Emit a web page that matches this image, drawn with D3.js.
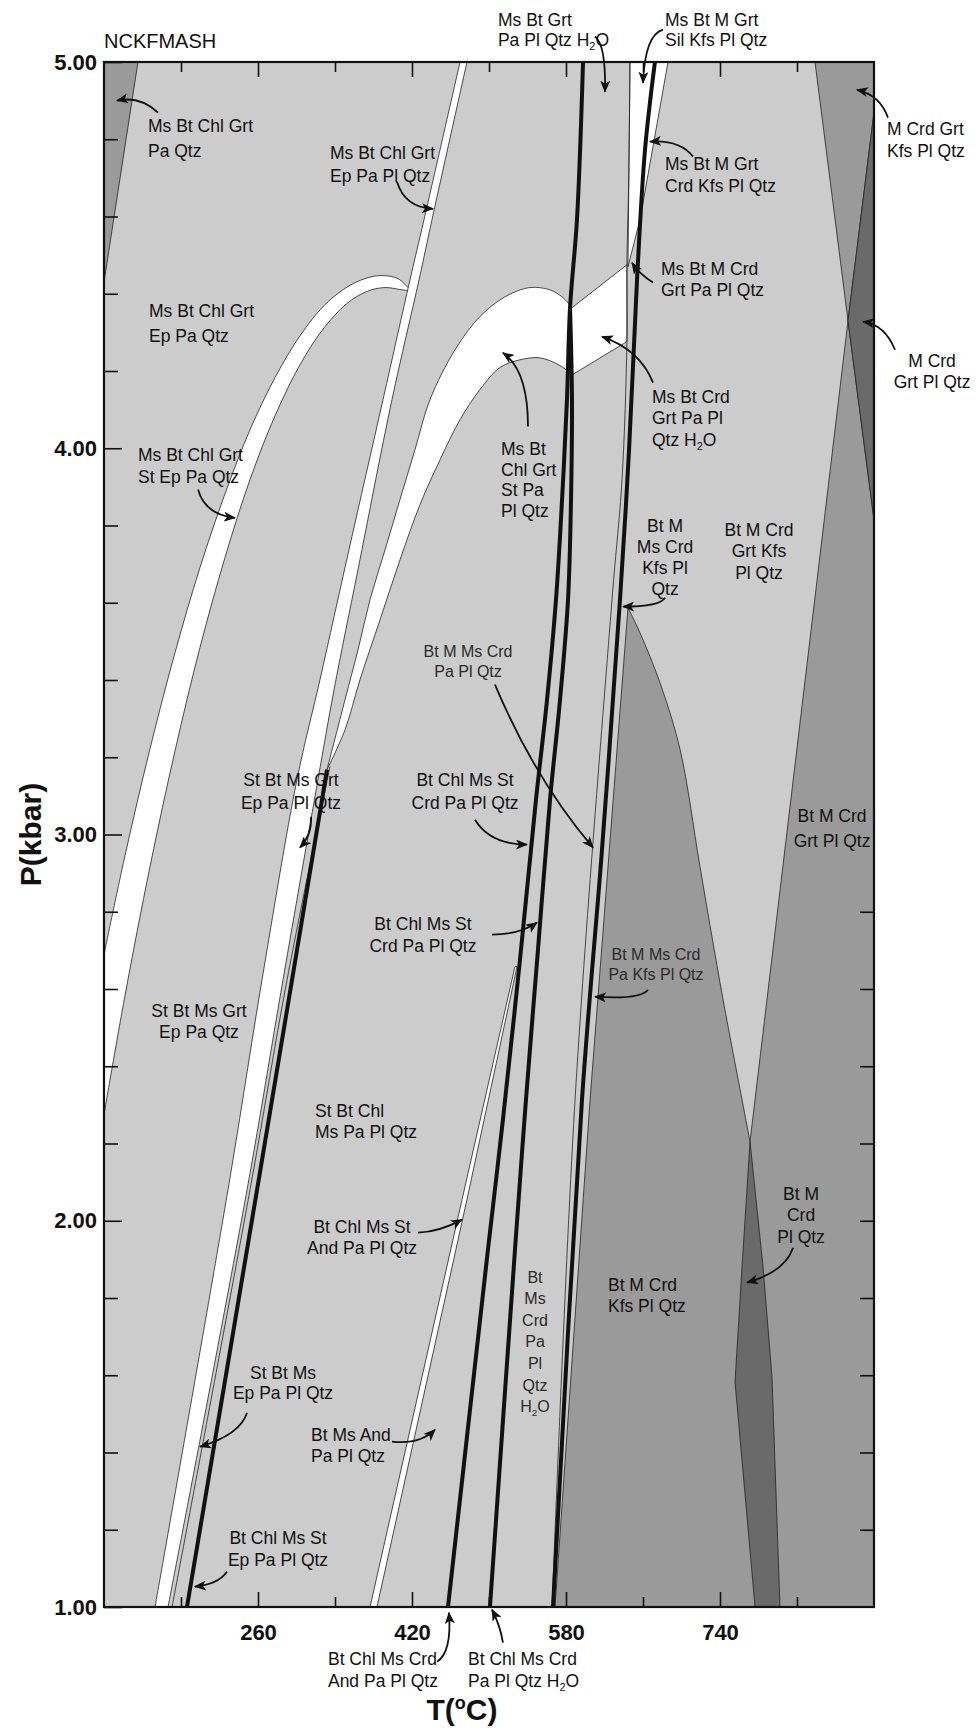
<!DOCTYPE html>
<html>
<head>
<meta charset="utf-8">
<script src="https://d3js.org/d3.v7.min.js"></script>
<style>
  body { margin: 0; background: #fff; }
  text { font-family: "Liberation Sans", Arial, Helvetica, sans-serif; }
</style>
</head>
<body>
<div id="chart-area"></div>
<script>
// NCKFMASH pseudosection, T (°C) vs P (kbar)

// ---- axis ticks ----
const tempMajor = [260, 420, 580, 740];
const tempMinor = [180, 340, 500, 660, 820];
const presMajor = [1, 2, 3, 4, 5];
const presMinor = [1.2, 1.4, 1.6, 1.8, 2.2, 2.4, 2.6, 2.8, 3.2, 3.4, 3.6, 3.8, 4.2, 4.4, 4.6, 4.8];
const presRight = [1.2, 1.4, 1.6, 1.8, 2.0, 2.2, 2.4, 2.6, 2.8];

// ---- field boundaries, [T, P] ----
const leftWedge = [[100, 5], [135.3, 5], [100, 4.43]];
const crdGrtKfs = [[838.7, 5], [900, 5], [900, 4.87], [873, 4.33]];
const crdGrtPl = [[900, 4.87], [873, 4.33], [900, 3.815]];
const kfsPeakCurve = [[644.4, 3.587], [656.9, 3.522], [677.6, 3.393], [698.5, 3.22], [719.2, 2.917], [740, 2.616], [762.9, 2.313], [771.2, 2.205]];
const kfsOuter = [[771.2, 2.205], [873, 4.33], [900, 3.815], [900, 1.0], [568.6, 1.0]];
const kfsLeftEdge = [[568.6, 1.0], [605, 2.313], [644.4, 3.587]];
const plLensLeft = [[771.2, 2.205], [762.9, 1.881], [755.6, 1.583], [776.4, 1.0]];
const plLensRight = [[771.2, 2.205], [784.7, 1.881], [794.0, 1.596], [802.3, 1.0]];

const arcOuter = [[100, 2.689], [121.8, 2.945], [147.8, 3.222], [173.8, 3.471], [199.7, 3.691], [225.7, 3.882], [251.7, 4.048], [277.7, 4.183], [303.6, 4.291], [329.6, 4.372], [355.6, 4.422], [376.4, 4.443], [389.9, 4.447], [405.5, 4.439], [417, 4.413]];
const arcInner = [[100, 2.275], [121.8, 2.583], [147.8, 2.917], [173.8, 3.217], [199.7, 3.484], [225.7, 3.717], [251.7, 3.919], [277.7, 4.084], [303.6, 4.216], [329.6, 4.315], [355.6, 4.381], [376.4, 4.409], [393.0, 4.416], [407.5, 4.411], [417, 4.408]];

const sbLeft = [[469.9, 5], [432.5, 4.592], [417.9, 4.436], [389.9, 4.126], [354.5, 3.737], [324.4, 3.401], [300.5, 3.142], [264.2, 2.624], [228.8, 2.08], [153.0, 1.0]];
const sbRight = [[477.1, 5], [440.8, 4.592], [427.3, 4.436], [399.2, 4.126], [363.9, 3.686], [339.0, 3.375], [322.3, 3.142], [286.0, 2.624], [248.6, 2.08], [166.5, 1.0]];
const sbThin = [[334.8, 3.176], [290.2, 2.624], [251.7, 2.08], [170.7, 1.0]];

const bigUpper = [[331.7, 3.168], [350.4, 3.349], [363.9, 3.478], [376.4, 3.608], [392.0, 3.737], [407.5, 3.867], [423.1, 3.996], [438.7, 4.126], [464.7, 4.255], [490.6, 4.341], [516.6, 4.392], [542.6, 4.416], [563.4, 4.41], [575.9, 4.392], [586.3, 4.364]];
const bigRight = [[586.3, 4.364], [643.3, 4.475], [643.3, 4.276], [586.3, 4.19]];
const bigLower = [[586.3, 4.19], [573.8, 4.214], [553.0, 4.234], [532.2, 4.229], [511.4, 4.209], [490.6, 4.152], [469.9, 4.074], [449.1, 3.97], [428.3, 3.854], [407.5, 3.711], [386.8, 3.556], [366.0, 3.401], [350.4, 3.271], [331.7, 3.168]];

const silWedge = [[646.5, 5], [686, 5], [656.9, 4.592], [644.4, 4.47]];
const andLeft = [[376.4, 1.0], [472.0, 2.055], [527.0, 2.658]];
const andRight = [[383.6, 1.0], [477.1, 2.055], [529.1, 2.658]];
const t4Line = [[646.5, 5], [645.2, 4.7], [643.3, 4.475], [643.3, 4.276], [638.2, 3.919], [627.8, 3.608], [589.4, 2.313], [565.5, 1.0]];

// ---- bold reaction lines ----
const rxnLow = [[186.2, 1.0], [259.0, 2.08], [331.7, 3.168]];
const rxnChlA = [[597.7, 5], [591.4, 4.592], [584.2, 4.364], [581.0, 4.126], [575.9, 3.867], [569.6, 3.608], [560.3, 3.349], [548.8, 3.09], [532.2, 2.676], [514.5, 2.262], [498.9, 1.925], [457.4, 1.0]];
const rxnChlB = [[584.2, 4.364], [586.2, 4.126], [585.2, 3.867], [582.1, 3.608], [573.8, 3.349], [563.4, 3.09], [550.9, 2.702], [538.4, 2.313], [527.0, 1.925], [501.0, 1.0]];
const rxnMs = [[672.4, 5], [662.1, 4.773], [653.8, 4.436], [645.5, 3.996], [636.1, 3.608], [617.4, 2.961], [596.6, 2.313], [566.5, 1.0]];

// ---- field labels ----
const labels = [
  {lines: ["Ms Bt Chl Grt", "Pa Qtz"], at: [145.7, 4.82], anchor: "start", lh: 25},
  {lines: ["Ms Bt Chl Grt", "Ep Pa Pl Qtz"], at: [334.8, 4.75], anchor: "start", lh: 23},
  {lines: ["Ms Bt Grt", "Pa Pl Qtz H2O"], at: [509.3, 5.094], anchor: "start", lh: 20},
  {lines: ["Ms Bt M Grt", "Sil Kfs Pl Qtz"], at: [682.9, 5.094], anchor: "start", lh: 20},
  {lines: ["M Crd Grt", "Kfs Pl Qtz"], at: [913.5, 4.812], anchor: "start", lh: 22},
  {lines: ["Ms Bt M Grt", "Crd Kfs Pl Qtz"], at: [682.9, 4.721], anchor: "start", lh: 22},
  {lines: ["Ms Bt M Crd", "Grt Pa Pl Qtz"], at: [678.7, 4.449], anchor: "start", lh: 21},
  {lines: ["M Crd", "Grt Pl Qtz"], at: [960.3, 4.211], anchor: "middle", lh: 21},
  {lines: ["Ms Bt Crd", "Grt Pa Pl", "Qtz H2O"], at: [669.3, 4.118], anchor: "start", lh: 21.5},
  {lines: ["Ms Bt", "Chl Grt", "St Pa", "Pl Qtz"], at: [512.5, 3.983], anchor: "start", lh: 20.7},
  {lines: ["Bt M", "Ms Crd", "Kfs Pl", "Qtz"], at: [682.9, 3.784], anchor: "middle", lh: 21},
  {lines: ["Bt M Crd", "Grt Kfs", "Pl Qtz"], at: [780.5, 3.774], anchor: "middle", lh: 21.5},
  {lines: ["Ms Bt Chl Grt", "St Ep Pa Qtz"], at: [135.3, 3.968], anchor: "start", lh: 22},
  {lines: ["Ms Bt Chl Grt", "Ep Pa Qtz"], at: [146.8, 4.341], anchor: "start", lh: 25},
  {lines: ["Bt M Ms Crd", "Pa Pl Qtz"], at: [478.2, 3.46], anchor: "middle", lh: 20, small: true},
  {lines: ["St Bt Ms Grt", "Ep Pa Pl Qtz"], at: [294.3, 3.126], anchor: "middle", lh: 23},
  {lines: ["Bt Chl Ms St", "Crd Pa Pl Qtz"], at: [475.1, 3.126], anchor: "middle", lh: 23},
  {lines: ["Bt Chl Ms St", "Crd Pa Pl Qtz"], at: [431.4, 2.754], anchor: "middle", lh: 22},
  {lines: ["St Bt Ms Grt", "Ep Pa Qtz"], at: [198.7, 2.528], anchor: "middle", lh: 21},
  {lines: ["St Bt Chl", "Ms Pa Pl Qtz"], at: [319.2, 2.269], anchor: "start", lh: 21},
  {lines: ["Bt Chl Ms St", "And Pa Pl Qtz"], at: [368.1, 1.967], anchor: "middle", lh: 21},
  {lines: ["St Bt Ms", "Ep Pa Pl Qtz"], at: [286.0, 1.589], anchor: "middle", lh: 19.5},
  {lines: ["Bt Ms And", "Pa Pl Qtz"], at: [315.1, 1.431], anchor: "start", lh: 21},
  {lines: ["Bt Chl Ms St", "Ep Pa Pl Qtz"], at: [280.8, 1.164], anchor: "middle", lh: 22},
  {lines: ["Bt", "Ms", "Crd", "Pa", "Pl", "Qtz", "H2O"], at: [547.8, 1.84], anchor: "middle", lh: 21.6, small: true},
  {lines: ["Bt M Ms Crd", "Pa Kfs Pl Qtz"], at: [673.5, 2.676], anchor: "middle", lh: 20, small: true},
  {lines: ["Bt M Crd", "Grt Pl Qtz"], at: [856.4, 3.033], anchor: "middle", lh: 25},
  {lines: ["Bt M", "Crd", "Pl Qtz"], at: [824.2, 2.055], anchor: "middle", lh: 21.5},
  {lines: ["Bt M Crd", "Kfs Pl Qtz"], at: [623.6, 1.819], anchor: "start", lh: 21},
  {lines: ["Bt Chl Ms Crd", "And Pa Pl Qtz"], at: [332.7, 0.851], anchor: "start", lh: 22},
  {lines: ["Bt Chl Ms Crd", "Pa Pl Qtz H2O"], at: [478.2, 0.851], anchor: "start", lh: 22}
];

// ---- pointer arrows: start, bend, tip ----
const arrows = [
  [[156.1, 4.869], [137.4, 4.913], [113.5, 4.900]],
  [[404.4, 4.690], [412.7, 4.623], [441.8, 4.620]],
  [[610.1, 5.066], [621.6, 5.045], [620.5, 4.923]],
  [[680.8, 5.084], [662.1, 5.071], [660.0, 4.946]],
  [[914.5, 4.856], [906.2, 4.915], [882.3, 4.928]],
  [[712.0, 4.755], [698.4, 4.799], [667.3, 4.794]],
  [[670.4, 4.429], [656.9, 4.449], [648.6, 4.480]],
  [[921.8, 4.255], [911.4, 4.320], [888.6, 4.328]],
  [[670.4, 4.170], [656.9, 4.255], [617.4, 4.289]],
  [[540.5, 4.056], [540.5, 4.203], [514.5, 4.247]],
  [[682.9, 3.613], [677.6, 3.590], [639.2, 3.590]],
  [[197.7, 3.893], [204.9, 3.828], [236.1, 3.820]],
  [[506.2, 3.388], [547.8, 3.142], [608.1, 2.966]],
  [[315.1, 3.046], [316.1, 2.999], [303.6, 2.966]],
  [[485.5, 3.038], [501.0, 2.974], [539.5, 2.974]],
  [[503.1, 2.741], [532.2, 2.741], [549.9, 2.772]],
  [[426.2, 1.969], [449.1, 1.972], [472.0, 2.003]],
  [[248.6, 1.503], [241.3, 1.446], [199.7, 1.415]],
  [[399.2, 1.428], [428.3, 1.420], [443.9, 1.459]],
  [[227.8, 1.091], [218.4, 1.058], [194.5, 1.053]],
  [[665.2, 2.598], [656.9, 2.572], [610.1, 2.580]],
  [[815.9, 1.930], [807.6, 1.868], [768.1, 1.840]],
  [[446.0, 0.858], [461.6, 0.884], [458.4, 0.985]],
  [[514.5, 0.908], [511.4, 0.954], [503.1, 0.993]]
];

const LIGHT = "#cccccc", MEDIUM = "#9a9a9a", DARK = "#6a6a6a";
const FONT = "'Liberation Sans', Arial, Helvetica, sans-serif";

const margin = { left: 104, right: 102, top: 62, bottom: 121 };
const full_width = 976, full_height = 1728;
const width = full_width - margin.left - margin.right,
    height = full_height - margin.top - margin.bottom;

const svg = d3.select("#chart-area")
    .append("svg")
    .attr("width", full_width)
    .attr("height", full_height);

const g = svg.append("g")
    .attr("transform", "translate(" + margin.left + ", " + margin.top + ")");

const x = d3.scaleLinear().domain([100, 900]).range([0, width]);
const y = d3.scaleLinear().domain([1, 5]).range([height, 0]);

const smooth = d3.line().x(d => x(d[0])).y(d => y(d[1])).curve(d3.curveCatmullRom.alpha(0.5));
const straight = d3.line().x(d => x(d[0])).y(d => y(d[1]));

// closed outline from several pieces, smooth or straight
function outline(parts) {
    return parts.map((p, i) => {
        const s = (p[1] ? smooth : straight)(p[0]);
        return i === 0 ? s : "L" + s.slice(1);
    }).join("") + "Z";
}

// arrow head
svg.append("defs").append("marker")
    .attr("id", "arrow")
    .attr("viewBox", "0 0 12 10")
    .attr("refX", 11).attr("refY", 5)
    .attr("markerWidth", 12).attr("markerHeight", 10)
    .attr("markerUnits", "userSpaceOnUse")
    .attr("orient", "auto")
  .append("path")
    .attr("d", "M0,0L12,5L0,10L3,5Z")
    .attr("fill", "#111");

g.append("clipPath").attr("id", "plot-clip")
  .append("rect").attr("width", width).attr("height", height);

const fields = g.append("g").attr("clip-path", "url(#plot-clip)");

fields.append("rect")
    .attr("width", width).attr("height", height)
    .attr("fill", LIGHT);

const shapes = [
    { d: outline([[leftWedge, false]]), fill: MEDIUM },
    { d: outline([[crdGrtKfs, false]]), fill: MEDIUM },
    { d: outline([[kfsPeakCurve, true], [kfsOuter, false], [kfsLeftEdge, false]]), fill: MEDIUM },
    { d: outline([[crdGrtPl, false]]), fill: DARK },
    { d: outline([[plLensLeft, false], [plLensRight.slice().reverse(), false]]), fill: DARK },
    { d: outline([[arcOuter, true], [arcInner.slice().reverse(), true]]), fill: "#fff" },
    { d: outline([[sbLeft, true], [sbRight.slice().reverse(), true]]), fill: "#fff" },
    { d: outline([[bigUpper, true], [bigRight, false], [bigLower, true]]), fill: "#fff" },
    { d: outline([[silWedge, false]]), fill: "#fff" },
    { d: outline([[andLeft, false], [andRight.slice().reverse(), false]]), fill: "#fff" }
];

fields.selectAll("path.field")
    .data(shapes)
    .enter()
    .append("path")
        .attr("class", "field")
        .attr("d", d => d.d)
        .attr("fill", d => d.fill)
        .attr("stroke", "#222")
        .attr("stroke-width", 0.8)
        .attr("stroke-linejoin", "round");

fields.selectAll("path.thin")
    .data([t4Line, sbThin])
    .enter()
    .append("path")
        .attr("class", "thin")
        .attr("d", d => smooth(d))
        .attr("fill", "none")
        .attr("stroke", "#222")
        .attr("stroke-width", 0.8);

fields.selectAll("path.rxn")
    .data([rxnLow, rxnChlA, rxnChlB, rxnMs])
    .enter()
    .append("path")
        .attr("class", "rxn")
        .attr("d", d => smooth(d))
        .attr("fill", "none")
        .attr("stroke", "#111")
        .attr("stroke-width", 4);

// axes (ticks point inward)
function styleAxis(sel) {
    sel.select(".domain").remove();
    sel.selectAll(".tick line").attr("stroke", "#111").attr("stroke-width", 1.6);
    sel.attr("font-size", 22).attr("font-weight", "bold").attr("font-family", FONT);
    sel.selectAll(".tick text").attr("fill", "#111");
}

g.append("g").attr("class", "x axis")
    .attr("transform", "translate(0, " + height + ")")
    .call(d3.axisBottom(x).tickValues(tempMajor).tickSizeInner(-15).tickSizeOuter(0)
        .tickPadding(17).tickFormat(d3.format("d")))
    .call(styleAxis);
g.append("g").attr("class", "x axis minor")
    .attr("transform", "translate(0, " + height + ")")
    .call(d3.axisBottom(x).tickValues(tempMinor).tickSizeInner(-10).tickSizeOuter(0).tickFormat(""))
    .call(styleAxis);
g.append("g").attr("class", "x axis top")
    .call(d3.axisTop(x).tickValues(tempMajor).tickSizeInner(-15).tickSizeOuter(0).tickFormat(""))
    .call(styleAxis);
g.append("g").attr("class", "x axis top minor")
    .call(d3.axisTop(x).tickValues(tempMinor).tickSizeInner(-10).tickSizeOuter(0).tickFormat(""))
    .call(styleAxis);

g.append("g").attr("class", "y axis")
    .call(d3.axisLeft(y).tickValues(presMajor).tickSizeInner(-18).tickSizeOuter(0)
        .tickPadding(7).tickFormat(d3.format(".2f")))
    .call(styleAxis);
g.append("g").attr("class", "y axis minor")
    .call(d3.axisLeft(y).tickValues(presMinor).tickSizeInner(-14).tickSizeOuter(0).tickFormat(""))
    .call(styleAxis);
g.append("g").attr("class", "y axis right")
    .attr("transform", "translate(" + width + ", 0)")
    .call(d3.axisRight(y).tickValues(presRight).tickSizeInner(-14).tickSizeOuter(0).tickFormat(""))
    .call(styleAxis);

// frame
g.append("rect")
    .attr("width", width).attr("height", height)
    .attr("fill", "none")
    .attr("stroke", "#111")
    .attr("stroke-width", 2.2);

// Y Label
g.append("text")
    .attr("x", -(height / 2))
    .attr("y", -63)
    .attr("transform", "rotate(-90)")
    .attr("text-anchor", "middle")
    .attr("font-size", "30px")
    .attr("font-weight", "bold")
    .attr("fill", "#111")
    .text("P(kbar)");

// X Label
const xl = g.append("text")
    .attr("x", 358)
    .attr("y", height + 113)
    .attr("text-anchor", "middle")
    .attr("font-size", "30px")
    .attr("font-weight", "bold")
    .attr("fill", "#111");
xl.append("tspan").text("T(");
xl.append("tspan").attr("font-size", "18px").attr("dy", -11).text("o");
xl.append("tspan").attr("dy", 11).text("C)");

g.append("text")
    .attr("x", x(100))
    .attr("y", y(5.037))
    .attr("font-size", "20px")
    .attr("fill", "#111")
    .text("NCKFMASH");

// arrows
g.selectAll("path.arrow")
    .data(arrows)
    .enter()
    .append("path")
        .attr("class", "arrow")
        .attr("d", d => "M" + x(d[0][0]) + "," + y(d[0][1]) +
            "Q" + x(d[1][0]) + "," + y(d[1][1]) + " " + x(d[2][0]) + "," + y(d[2][1]))
        .attr("fill", "none")
        .attr("stroke", "#111")
        .attr("stroke-width", 1.8)
        .attr("marker-end", "url(#arrow)");

// field labels
function addLine(t, str, px, dy) {
    const line = t.append("tspan").attr("x", px).attr("dy", dy);
    const parts = str.split("H2O");
    if (parts.length === 1) { line.text(str); return; }
    line.append("tspan").text(parts[0] + "H");
    line.append("tspan").attr("dy", 4).attr("font-size", "0.62em").text("2");
    line.append("tspan").attr("dy", -4).text("O" + parts[1]);
}

labels.forEach(l => {
    const px = x(l.at[0]);
    const t = g.append("text")
        .attr("x", px)
        .attr("y", y(l.at[1]))
        .attr("text-anchor", l.anchor)
        .attr("font-size", l.small ? "16px" : "17.5px")
        .attr("fill", l.small ? "#2a2a2a" : "#111");
    l.lines.forEach((s, i) => addLine(t, s, px, i === 0 ? 0 : l.lh));
});
</script>
</body>
</html>
